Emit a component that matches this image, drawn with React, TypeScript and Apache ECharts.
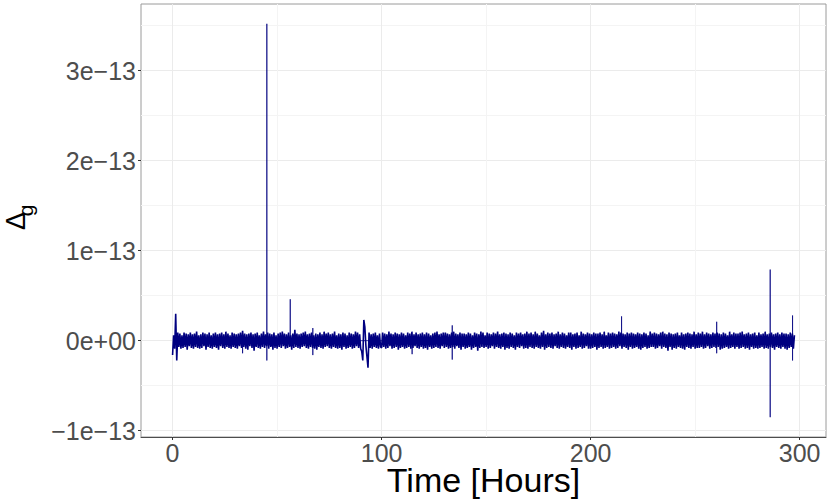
import React, { useEffect, useRef } from "react";
import * as echarts from "echarts";

// Sampling step of the recording (hours); values below are Δg in units of 1e-15
const stepHours = 0.5;

// 0 – 99.5 h
const noiseA = [
  -16, 6, -9, 30, -22, 9, -7, 8, -9, 6, -8, 9, -7, 8, -10, 7, -6, 9, -8, 7,
  -9, 8, -7, 10, -8, 6, -9, 7, -8, 9, -6, 8, -10, 7, -7, 9, -8, 6, -9, 8,
  -7, 9, -8, 7, -10, 8, -6, 9, -8, 7, -9, 10, -7, 8, -8, 6, -9, 9, -7, 8,
  -8, 7, -9, 8, -6, 9, -8, 11, -7, 8, -9, 7, -10, 8, -6, 9, -8, 7, -11, 8,
  -7, 9, -8, 6, -9, 8, -7, 10, -8, 7, -6, 9, -9, 8, -7, 7, -10, 9, -8, 6,
  -9, 8, -7, 9, -8, 10, -6, 8, -9, 7, -8, 9, -7, 6, -10, 8, -8, 12, -7, 8,
  -8, 7, -9, 8, -7, 9, -6, 10, -8, 7, -9, 8, -7, 9, -8, 6, -9, 8, -10, 7,
  -7, 9, -8, 7, -9, 10, -7, 8, -6, 9, -8, 7, -9, 8, -7, 10, -8, 6, -9, 8,
  -8, 7, -10, 9, -7, 8, -9, 6, -8, 9, -7, 8, -9, 7, -8, 10, -6, 9, -8, 7,
  -9, -12, -22, 23, 15, -6, -18, -30, 9, -8, 7, -9, 8, -7, 9, -8, 6, -9, 8, -7,
];

// 100 – 199.5 h
const noiseB = [
  -8, 9, -7, 8, -9, 7, -8, 10, -6, 8, -9, 7, -8, 9, -7, 8, -10, 7, -8, 9,
  -7, 8, -9, 6, -8, 9, -7, 8, -9, 10, -8, 7, -6, 9, -8, 7, -9, 8, -7, 9,
  -9, 7, -8, 9, -10, 8, -7, 6, -9, 8, -8, 9, -7, 10, -8, 7, -9, 8, -6, 9,
  -8, 9, -7, 8, -9, 7, -8, 9, -7, 10, -9, 8, -6, 7, -8, 9, -10, 8, -7, 8,
  -9, 7, -8, 9, -7, 8, -10, 6, -8, 9, -7, 8, -11, 7, -8, 10, -7, 9, -8, 6,
  -7, 9, -9, 8, -8, 7, -6, 9, -9, 8, -7, 10, -8, 7, -9, 8, -7, 9, -10, 8,
  -8, 7, -9, 9, -7, 8, -8, 6, -10, 9, -7, 8, -8, 9, -6, 7, -9, 8, -8, 10,
  -9, 8, -7, 9, -8, 7, -9, 10, -7, 8, -8, 6, -9, 9, -7, 11, -10, 7, -8, 9,
  -7, 8, -8, 9, -9, 7, -6, 8, -8, 10, -9, 7, -7, 9, -8, 8, -9, 6, -7, 9,
  -8, 9, -10, 7, -7, 8, -9, 9, -8, 6, -7, 10, -9, 8, -8, 7, -6, 9, -9, 8,
];

// 200 – 297.5 h
const noiseC = [
  -9, 7, -8, 9, -7, 8, -10, 8, -8, 9, -7, 7, -9, 10, -8, 6, -7, 9, -9, 8,
  -8, 9, -7, 8, -9, 7, -8, 10, -6, 9, -9, 8, -7, 7, -8, 9, -10, 8, -7, 9,
  -9, 8, -8, 7, -7, 9, -9, 8, -10, 7, -8, 9, -7, 8, -9, 6, -8, 10, -7, 8,
  -7, 9, -9, 8, -8, 7, -6, 9, -9, 10, -7, 8, -8, 7, -11, 9, -7, 8, -10, 7,
  -8, 8, -9, 9, -7, 6, -8, 9, -9, 7, -10, 8, -7, 9, -8, 8, -9, 7, -7, 10,
  -9, 7, -8, 9, -8, 8, -7, 10, -9, 7, -8, 9, -6, 8, -9, 7, -8, 9, -7, 8,
  -8, 9, -7, 8, -10, 7, -9, 9, -8, 8, -7, 6, -9, 10, -8, 7, -7, 9, -9, 8,
  -7, 8, -9, 9, -8, 10, -7, 7, -9, 8, -8, 9, -10, 7, -7, 8, -9, 9, -8, 6,
  -9, 9, -8, 7, -7, 8, -9, 10, -8, 7, -9, 8, -7, 9, -8, 7, -10, 8, -7, 9,
  -8, 7, -9, 9, -7, 8, -9, 8, -10, 7, -8, 9, -7, 8, -9, 6,
];

// isolated glitches (hours, top and bottom of each spike, units 1e-15)
const spikeHours = [33.5, 45.1, 56.3, 67.1, 114.6, 133.8, 214.8, 260.3, 285.9, 296.6];
const spikeTop = [0, 352, 46, 14, 0, 17, 27, 21, 79, 28];
const spikeBottom = [-14, -22, 0, -16, -15, -21, 0, -14, -85, -22];

// axis ticks
const xTicks = [0, 100, 200, 300];
const yTicks = [-100, 0, 100, 200, 300];

const FONT = "'Liberation Sans', Arial, Helvetica, sans-serif";

function fmtY(v: number): string {
  const n = Math.round(v) / 100;
  if (n === 0) return "0e+00";
  return (n < 0 ? "\u2212" : "") + Math.abs(n) + "e\u221213";
}

export default function App() {
  const ref = useRef<HTMLDivElement>(null);

  useEffect(() => {
    if (!ref.current) return;
    const chart = echarts.init(ref.current, undefined, { renderer: "svg" });

    const noise = [...noiseA, ...noiseB, ...noiseC];
    const mainData = noise.map((v, i) => [i * stepHours, v]);
    const spikeData: number[][] = [];
    spikeHours.forEach((h, i) => {
      spikeData.push([h, 0], [h, spikeTop[i]], [h, spikeBottom[i]], [h, 0]);
    });

    chart.setOption({
      animation: false,
      backgroundColor: "#ffffff",
      textStyle: { fontFamily: FONT },
      grid: {
        left: 141,
        top: 4,
        right: 4,
        bottom: 66,
        containLabel: false,
        outerBoundsMode: "none",
        show: true,
        borderColor: "#9a9a9a",
        borderWidth: 1,
        backgroundColor: "transparent",
      },
      xAxis: {
        type: "value",
        min: -15.1,
        max: 312.6,
        minInterval: 100,
        maxInterval: 100,
        name: "Time [Hours]",
        nameLocation: "middle",
        nameGap: 26,
        nameMoveOverlap: false,
        nameTextStyle: { fontSize: 34, color: "#000000", fontFamily: FONT },
        axisLine: { show: true, onZero: false, lineStyle: { color: "#4d4d4d", width: 1 } },
        axisTick: { show: true, length: 3, lineStyle: { color: "#333333" }, customValues: xTicks },
        axisLabel: {
          fontSize: 25,
          color: "#4d4d4d",
          margin: 3,
          fontFamily: FONT,
          customValues: xTicks,
        },
        splitLine: { show: true, lineStyle: { color: "#ebebeb", width: 1 } },
        minorTick: { show: false, splitNumber: 2 },
        minorSplitLine: { show: true, lineStyle: { color: "#f4f4f4", width: 1 } },
      },
      yAxis: {
        type: "value",
        min: -107,
        max: 374,
        minInterval: 100,
        maxInterval: 100,
        axisLine: { show: false, onZero: false },
        axisTick: { show: true, length: 3, lineStyle: { color: "#333333" }, customValues: yTicks },
        axisLabel: {
          fontSize: 25,
          color: "#4d4d4d",
          margin: 5,
          fontFamily: FONT,
          formatter: fmtY,
          customValues: yTicks,
        },
        splitLine: { show: true, lineStyle: { color: "#ebebeb", width: 1 } },
        minorTick: { show: false, splitNumber: 2 },
        minorSplitLine: { show: true, lineStyle: { color: "#f4f4f4", width: 1 } },
      },
      graphic: [
        {
          type: "text",
          x: 15.5,
          y: 221,
          rotation: Math.PI / 2,
          style: {
            text: "\u0394",
            fontSize: 27,
            fontFamily: FONT,
            fill: "#000000",
            align: "center",
            verticalAlign: "middle",
          },
        },
        {
          type: "text",
          x: 25.5,
          y: 210.5,
          rotation: Math.PI / 2,
          style: {
            text: "g",
            fontSize: 21,
            fontFamily: FONT,
            fill: "#000000",
            align: "center",
            verticalAlign: "middle",
          },
        },
      ],
      series: [
        {
          name: "spikes",
          type: "line",
          data: spikeData,
          showSymbol: false,
          symbol: "none",
          z: 2,
          lineStyle: { color: "#000080", width: 1, opacity: 0.75 },
        },
        {
          name: "Δg",
          type: "line",
          data: mainData,
          showSymbol: false,
          symbol: "none",
          z: 3,
          lineStyle: { color: "#000080", width: 1.6 },
        },
      ],
    });

    return () => chart.dispose();
  }, []);

  return (
    <div
      ref={ref}
      style={{ position: "fixed", left: 0, top: 0, width: 830, height: 503, background: "#fff" }}
    />
  );
}
